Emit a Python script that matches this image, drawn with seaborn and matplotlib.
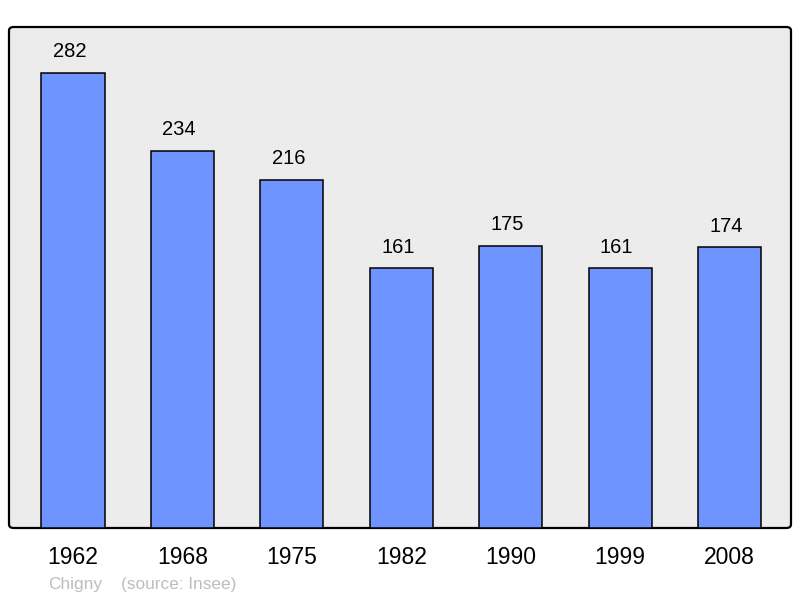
import pandas as pd
import matplotlib
matplotlib.use("Agg")
import matplotlib.pyplot as plt
from matplotlib.patches import FancyBboxPatch
import seaborn as sns

years = ["1962", "1968", "1975", "1982", "1990", "1999", "2008"]
population = [282, 234, 216, 161, 175, 161, 174]
commune = "Chigny"
source = "(source: Insee)"

BAR_COLOR = "#7094ff"
BG_COLOR = "#ececec"

sns.set_theme(style="white")
plt.rcParams["font.family"] = ["Liberation Sans", "DejaVu Sans"]

df = pd.DataFrame({"year": years, "pop": population})

fig = plt.figure(figsize=(8, 5.98), dpi=100)
ax = fig.add_axes([9 / 800, 70 / 598, 782 / 800, 501 / 598])
ax.set_facecolor("none")
ax.set_zorder(2)

# fond gris arrondi
frame = FancyBboxPatch((9 / 800, 70 / 598), 782 / 800, 501 / 598,
                       boxstyle="round,pad=0,rounding_size=0.006",
                       transform=fig.transFigure, facecolor=BG_COLOR,
                       edgecolor="black", linewidth=1.6, zorder=-1)
fig.patches.append(frame)

sns.barplot(data=df, x="year", y="pop", color=BAR_COLOR, width=0.576,
            edgecolor="black", linewidth=1.1, saturation=1, ax=ax, zorder=2)

for i, v in enumerate(population):
    ax.annotate(str(v), xy=(i, v), xytext=(-2.5, 8.5), textcoords="offset points",
                ha="center", va="bottom", fontsize=14.5, color="black")

ax.set_xlim(-0.585, 6.562)
ax.set_ylim(0, 310.6)
ax.set_xlabel("")
ax.set_ylabel("")
ax.set_yticks([])
ax.tick_params(axis="x", length=0, labelsize=16.5, pad=13, colors="black")
for s in ax.spines.values():
    s.set_visible(False)

fig.text(48 / 800, 1 - 584 / 598, commune, fontsize=12.4, color="#bdbdbd", va="center")
fig.text(121 / 800, 1 - 584 / 598, source, fontsize=12.4, color="#bdbdbd", va="center")

plt.savefig("out.png", dpi=100)
plt.close()
